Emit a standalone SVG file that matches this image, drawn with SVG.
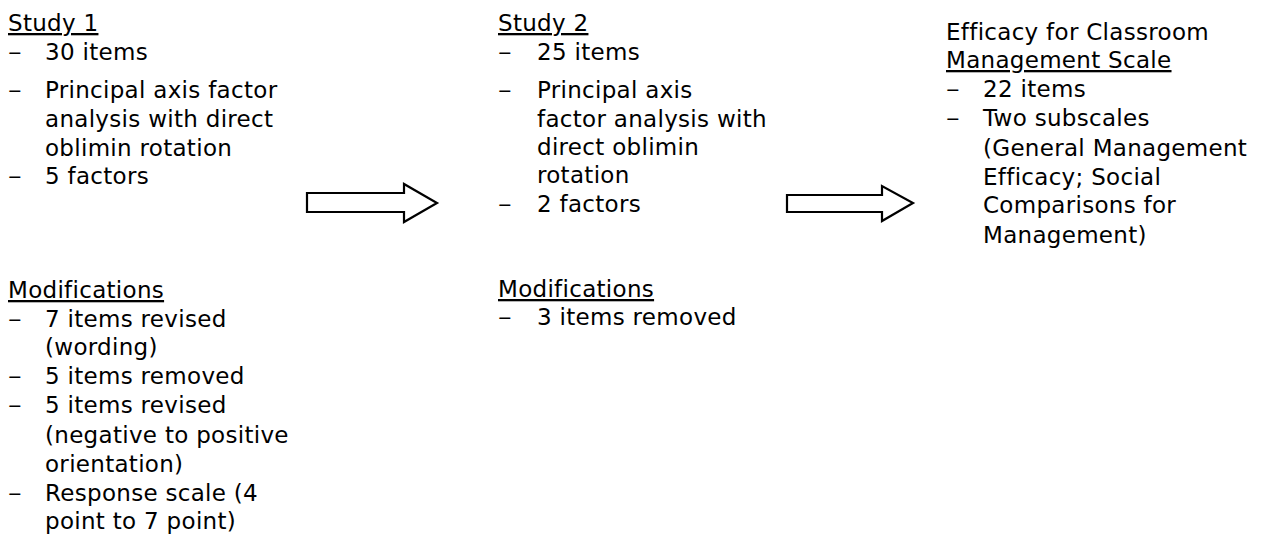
<svg xmlns="http://www.w3.org/2000/svg" width="1268" height="536" viewBox="0 0 1268 536">
<style>
text{font-family:"DejaVu Sans","Verdana",sans-serif;font-size:23px;letter-spacing:0.3px;fill:#000}
.u{text-decoration:underline}
.arrow{fill:#fff;stroke:#000;stroke-width:2.2;stroke-linejoin:miter}
</style>
<rect width="1268" height="536" fill="#fff"/>
<g id="study1">
<text x="8" y="31" class="u">Study 1</text>
<text x="8" y="60" textLength="14" lengthAdjust="spacingAndGlyphs">–</text><text x="45" y="60">30 items</text>
<text x="8" y="98" textLength="14" lengthAdjust="spacingAndGlyphs">–</text><text x="45" y="98">Principal axis factor</text>
<text x="45" y="127">analysis with direct</text>
<text x="45" y="156">oblimin rotation</text>
<text x="8" y="184" textLength="14" lengthAdjust="spacingAndGlyphs">–</text><text x="45" y="184">5 factors</text>
</g>
<g id="study2">
<text x="498" y="31" class="u">Study 2</text>
<text x="498" y="60" textLength="14" lengthAdjust="spacingAndGlyphs">–</text><text x="537" y="60">25 items</text>
<text x="498" y="98" textLength="14" lengthAdjust="spacingAndGlyphs">–</text><text x="537" y="98">Principal axis</text>
<text x="537" y="127">factor analysis with</text>
<text x="537" y="155">direct oblimin</text>
<text x="537" y="183">rotation</text>
<text x="498" y="212" textLength="14" lengthAdjust="spacingAndGlyphs">–</text><text x="537" y="212">2 factors</text>
</g>
<g id="scale">
<text x="946" y="40">Efficacy for Classroom</text>
<text x="946" y="68" class="u">Management Scale</text>
<text x="946" y="97" textLength="14" lengthAdjust="spacingAndGlyphs">–</text><text x="983" y="97">22 items</text>
<text x="946" y="126" textLength="14" lengthAdjust="spacingAndGlyphs">–</text><text x="983" y="126">Two subscales</text>
<text x="983" y="156">(General Management</text>
<text x="983" y="185">Efficacy; Social</text>
<text x="983" y="213">Comparisons for</text>
<text x="983" y="243">Management)</text>
</g>
<g id="mods1">
<text x="8" y="298" class="u">Modifications</text>
<text x="8" y="327" textLength="14" lengthAdjust="spacingAndGlyphs">–</text><text x="45" y="327">7 items revised</text>
<text x="45" y="355">(wording)</text>
<text x="8" y="384" textLength="14" lengthAdjust="spacingAndGlyphs">–</text><text x="45" y="384">5 items removed</text>
<text x="8" y="413" textLength="14" lengthAdjust="spacingAndGlyphs">–</text><text x="45" y="413">5 items revised</text>
<text x="45" y="443">(negative to positive</text>
<text x="45" y="472">orientation)</text>
<text x="8" y="501" textLength="14" lengthAdjust="spacingAndGlyphs">–</text><text x="45" y="501">Response scale (4</text>
<text x="45" y="529">point to 7 point)</text>
</g>
<g id="mods2">
<text x="498" y="297" class="u">Modifications</text>
<text x="498" y="325" textLength="14" lengthAdjust="spacingAndGlyphs">–</text><text x="537" y="325">3 items removed</text>
</g>
<g id="connectors">
<polygon class="arrow" points="307,193 404,193 404,184 437,203 404,222 404,212 307,212"/>
<polygon class="arrow" points="787,195 882,195 882,186 913,203 882,221 882,212 787,212"/>
</g>
</svg>
